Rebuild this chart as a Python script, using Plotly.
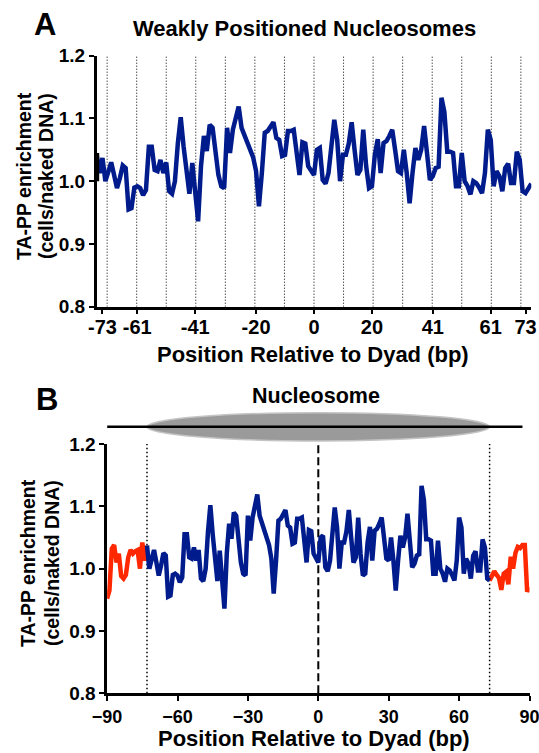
import plotly.graph_objects as go

# ---------------- data ----------------
# Panel A / core profile: positions -75..75 (bp)
core_positions = list(range(-75, 76))
core_values = [
    1.042, 1.013, 1.037, 1.000, 1.015, 1.030, 1.010, 0.989, 1.005, 1.025,   # -75..-66
    1.021, 0.955, 0.957, 0.990, 0.992, 0.989, 0.978, 0.986, 1.055, 1.055,   # -65..-56
    1.018, 1.016, 1.034, 1.013, 1.030, 0.984, 0.980, 1.000, 1.060, 1.102,   # -55..-46
    1.055, 1.023, 0.980, 1.029, 0.990, 0.936, 1.024, 1.072, 1.048, 1.090,   # -45..-36
    1.085, 1.050, 1.010, 0.992, 0.989, 1.085, 1.045, 1.082, 1.100, 1.119,   # -35..-26
    1.085, 1.073, 1.065, 1.050, 1.038, 1.016, 0.960, 1.013, 1.077, 1.080,   # -25..-16
    1.088, 1.094, 1.069, 1.066, 1.040, 1.042, 1.080, 1.080, 1.082, 1.050,   # -15..-6
    1.010, 1.062, 1.060, 1.024, 1.016, 1.010, 1.050, 1.053, 1.002, 0.996,   # -5..4
    1.013, 1.060, 1.098, 1.066, 1.000, 1.042, 1.042, 1.060, 1.094, 1.050,   # 5..14
    1.010, 1.018, 1.082, 1.024, 0.989, 0.992, 1.042, 1.067, 1.013, 1.061,   # 15..24
    1.064, 1.072, 1.082, 1.050, 1.016, 1.013, 1.050, 1.013, 0.965, 1.013,   # 25..34
    1.053, 1.034, 1.050, 1.088, 1.040, 1.002, 1.008, 1.021, 1.023, 1.133,   # 35..44
    1.110, 1.047, 1.047, 1.045, 0.992, 0.992, 1.045, 1.000, 0.992, 0.979,   # 45..54
    1.000, 0.997, 0.990, 0.981, 1.013, 1.082, 1.066, 0.992, 1.016, 1.008,   # 55..64
    0.984, 1.021, 1.028, 0.997, 0.997, 1.047, 1.034, 0.984, 0.981, 0.990,   # 65..74
    0.996,                                                                   # 75
]

# Panel B flanking linker values
flank_left_positions = list(range(-90, -75))
flank_left_values = [0.952, 0.965, 1.032, 1.038, 1.010, 1.024, 0.988, 0.984,
                     0.990, 1.018, 1.030, 1.024, 1.028, 1.030, 1.000]
flank_right_positions = list(range(76, 91))
flank_right_values = [0.990, 0.985, 0.966, 0.992, 0.995, 0.975, 1.019, 1.000,
                      1.025, 1.035, 1.033, 1.038, 1.038, 0.963, 0.970]

# Tick labels
a_tickvals = [-73, -61, -41, -20, 0, 20, 41, 61, 73]
a_ticktext = ["-73", "-61", "-41", "-20", "0", "20", "41", "61", "73"]
b_tickvals = [-90, -60, -30, 0, 30, 60, 90]
y_tickvals = [0.8, 0.9, 1.0, 1.1, 1.2]
y_ticktext = ["0.8", "0.9", "1.0", "1.1", "1.2"]

# Helical-turn guide lines (panel A) and nucleosome borders (panel B)
helical_lines_a = [k * 10.2 for k in range(-7, 8)]
nucleosome_edges = [-73, 73]

assert len(core_values) == len(core_positions)

# ---------------- build ----------------
OFF = 0                      # body margin removed by post_script below
W, H = 539, 753
BLUE = "#001c8c"
RED = "#ff2800"
FONT = "Liberation Sans, Arial, sans-serif"


def px(x):
    return (x - OFF) / W


def py(y):
    return 1 - (y - OFF) / H


idx = {p: i for i, p in enumerate(core_positions)}

# B series
red_left_x = flank_left_positions + core_positions[idx[-75]: idx[-73] + 1]
red_left_y = flank_left_values + core_values[idx[-75]: idx[-73] + 1]
blue_x = core_positions[idx[-73]: idx[73] + 1]
blue_y = core_values[idx[-73]: idx[73] + 1]
red_right_x = core_positions[idx[73]:] + flank_right_positions
red_right_y = core_values[idx[73]:] + flank_right_values

fig = go.Figure()
fig.add_trace(go.Scatter(x=core_positions, y=core_values, mode="lines",
                         line=dict(color=BLUE, width=4.5), xaxis="x", yaxis="y",
                         showlegend=False))
fig.add_trace(go.Scatter(x=red_left_x, y=red_left_y, mode="lines",
                         line=dict(color=RED, width=4.5), xaxis="x2", yaxis="y2",
                         showlegend=False))
fig.add_trace(go.Scatter(x=red_right_x, y=red_right_y, mode="lines",
                         line=dict(color=RED, width=4.5), xaxis="x2", yaxis="y2",
                         showlegend=False))
fig.add_trace(go.Scatter(x=blue_x, y=blue_y, mode="lines",
                         line=dict(color=BLUE, width=4.5), xaxis="x2", yaxis="y2",
                         showlegend=False))

shapes = []
for v in helical_lines_a:
    shapes.append(dict(type="line", xref="x", yref="y", x0=v, x1=v, y0=0.8, y1=1.2,
                       line=dict(color="black", width=1, dash="1px,2px"), layer="below"))
for v in nucleosome_edges:
    shapes.append(dict(type="line", xref="x2", yref="y2", x0=v, x1=v, y0=0.8, y1=1.2,
                       line=dict(color="black", width=1.5, dash="1.5px,2.5px"), layer="below"))
shapes.append(dict(type="line", xref="x2", yref="y2", x0=0, x1=0, y0=0.8, y1=1.2,
                   line=dict(color="black", width=2, dash="8px,4px"), layer="below"))

# artifact on A's y axis near 1.0-1.04
shapes.append(dict(type="line", xref="x", yref="y", x0=-75, x1=-75, y0=1.0, y1=1.045,
                   line=dict(color="black", width=5)))

# nucleosome cartoon
shapes.append(dict(type="circle", xref="x2", yref="paper", x0=-73, x1=73,
                   y0=py(441), y1=py(412.7), fillcolor="#9a9a9a",
                   line=dict(color="#c4c4c4", width=1.5)))
shapes.append(dict(type="line", xref="x2", yref="paper", x0=-90, x1=87,
                   y0=py(426.7), y1=py(426.7), line=dict(color="black", width=2.5)))

bold = dict(family=FONT, color="black", weight="bold")


def label(text, x, y, size, angle=0):
    return dict(text=text, x=px(x), y=py(y), xref="paper", yref="paper",
                xanchor="center", yanchor="middle", showarrow=False,
                textangle=angle, font=dict(size=size, **bold))


ann = [
    label("A", 45, 25, 31),
    label("B", 47, 399, 31),
    label("Weakly Positioned Nucleosomes", 304, 29, 22),
    label("Nucleosome", 316, 396, 21.5),
    label("Position Relative to Dyad (bp)", 313, 354, 22),
    label("Position Relative to Dyad (bp)", 314, 738, 22),
]
for cy, x1, x2 in [(176, 24, 46), (563, 28, 52)]:
    ann.append(label("TA-PP enrichment", x1, cy, 19.5, -90))
    ann.append(label("(cells/naked DNA)", x2, cy, 19.5, -90))

axis_common = dict(showline=True, linecolor="black", linewidth=2.5, ticks="outside",
                   ticklen=5, tickwidth=2, tickcolor="black", showgrid=False,
                   zeroline=False, mirror=False, automargin=False)

fig.update_layout(
    template="none",
    width=W, height=H, autosize=False,
    margin=dict(l=0, r=0, t=0, b=0, pad=0),
    paper_bgcolor="white", plot_bgcolor="white",
    shapes=shapes, annotations=ann,
    xaxis=dict(domain=[px(96.7), px(531.3)], range=[-75, 75], anchor="y",
               tickmode="array", tickvals=a_tickvals, ticktext=a_ticktext,
               ticklabelstandoff=-4, ticklabeloverflow="allow",
               tickfont=dict(size=20, **bold), **axis_common),
    yaxis=dict(domain=[py(306.7), py(55.7)], range=[0.8, 1.2], anchor="x",
               tickmode="array", tickvals=y_tickvals, ticktext=y_ticktext,
               tickfont=dict(size=19, **bold), **axis_common),
    xaxis2=dict(domain=[px(107.1), px(529.5)], range=[-90, 90], anchor="y2",
                tickmode="array", tickvals=b_tickvals, ticklabeloverflow="allow",
                tickfont=dict(size=18, **bold), **axis_common),
    yaxis2=dict(domain=[py(693.3), py(444)], range=[0.8, 1.2], anchor="x2",
                tickmode="array", tickvals=y_tickvals, ticktext=y_ticktext,
                tickfont=dict(size=19, **bold), **axis_common),
)

fig.write_html(
    "out.html",
    config={"displayModeBar": False},
    post_script="document.body.style.margin='0';document.body.style.overflow='hidden';",
)
